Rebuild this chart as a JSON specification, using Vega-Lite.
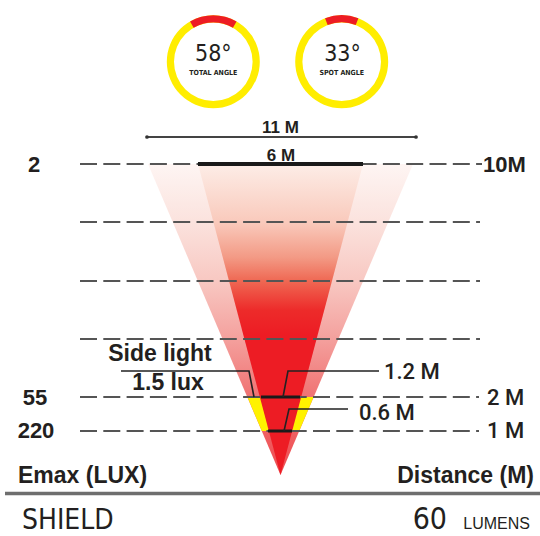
{
  "$schema": "https://vega.github.io/schema/vega-lite/v6.json",
  "width": 540,
  "height": 536,
  "padding": 0,
  "autosize": {"type": "none"},
  "background": "white",
  "config": {"view": {"stroke": null}},
  "datasets": {
    "outer": [{"y": 164, "x": 148, "x2": 413}, {"y": 475, "x": 280.5, "x2": 280.5}],
    "inner": [{"y": 164, "x": 198, "x2": 363}, {"y": 475, "x": 280.5, "x2": 280.5}],
    "band": [{"y": 397, "x": 247.4, "x2": 313.6}, {"y": 431, "x": 261.8, "x2": 299.2}],
    "grid": [
      {"y": 164, "x": 80, "x2": 482},
      {"y": 222, "x": 80, "x2": 480},
      {"y": 281, "x": 80, "x2": 480},
      {"y": 339, "x": 80, "x2": 480},
      {"y": 397, "x": 80, "x2": 479},
      {"y": 431, "x": 80, "x2": 479}
    ],
    "spans": [
      {"span": "6 M", "y": 164, "x": 198, "x2": 363},
      {"span": "1.2 M", "y": 397, "x": 261, "x2": 300},
      {"span": "0.6 M", "y": 431, "x": 268, "x2": 292}
    ],
    "dim": [{"span": "11 M", "y": 137, "x": 147, "x2": 416}],
    "dimEnds": [{"x": 147, "y": 137}, {"x": 416, "y": 137}],
    "leaders": [
      {"id": "side", "k": 0, "x": 121, "y": 371},
      {"id": "side", "k": 1, "x": 249, "y": 371},
      {"id": "side", "k": 2, "x": 254, "y": 397},
      {"id": "spot2", "k": 0, "x": 379, "y": 371},
      {"id": "spot2", "k": 1, "x": 288, "y": 371},
      {"id": "spot2", "k": 2, "x": 283, "y": 397},
      {"id": "spot1", "k": 0, "x": 348, "y": 409},
      {"id": "spot1", "k": 1, "x": 289, "y": 409},
      {"id": "spot1", "k": 2, "x": 284, "y": 431}
    ],
    "base": [{"x": 5, "x2": 540, "y": 493.5}],
    "rings": [
      {"ring": "total", "x": 213.3, "y": 61.7, "a0": -180, "a1": 180},
      {"ring": "spot", "x": 341.7, "y": 61.7, "a0": -180, "a1": 180}
    ],
    "ringArcs": [
      {"ring": "total", "x": 213.3, "y": 61.7, "a0": -30, "a1": 30},
      {"ring": "spot", "x": 341.7, "y": 61.7, "a0": -21, "a1": 21}
    ],
    "ringBig": [
      {"t": "58°", "x": 213.3, "y": 60.5},
      {"t": "33°", "x": 342.5, "y": 60.5}
    ],
    "ringSmall": [
      {"t": "TOTAL ANGLE", "x": 213.3, "y": 74.5},
      {"t": "SPOT ANGLE", "x": 341.7, "y": 74.5}
    ],
    "boldCenter": [
      {"t": "Side light", "x": 160, "y": 361},
      {"t": "1.5 lux", "x": 168, "y": 390}
    ],
    "lux": [
      {"t": "2", "x": 34, "y": 172},
      {"t": "55", "x": 35, "y": 405},
      {"t": "220", "x": 36, "y": 438}
    ],
    "distTop": [{"t": "10M", "x": 483, "y": 172}],
    "dist": [
      {"t": "2 M", "x": 487, "y": 405},
      {"t": "1 M", "x": 487, "y": 438}
    ],
    "spotLabels": [
      {"t": "1.2 M", "x": 384, "y": 379},
      {"t": "0.6 M", "x": 359, "y": 420}
    ],
    "dimLabels": [
      {"t": "11 M", "x": 280.5, "y": 133},
      {"t": "6 M", "x": 281, "y": 161}
    ],
    "footLeft": [{"t": "Emax (LUX)", "x": 18, "y": 483}],
    "footRight": [{"t": "Distance (M)", "x": 534, "y": 483}],
    "brand": [{"t": "SHIELD", "x": 22, "y": 529}],
    "lumNum": [{"t": "60", "x": 447, "y": 529}],
    "lumWord": [{"t": "LUMENS", "x": 530, "y": 529}]
  },
  "encoding": {
    "x": {"field": "x", "type": "quantitative", "axis": null, "scale": {"domain": [0, 540], "nice": false, "zero": false}},
    "y": {"field": "y", "type": "quantitative", "axis": null, "scale": {"domain": [0, 536], "nice": false, "zero": false, "reverse": true}}
  },
  "layer": [
    {
      "data": {"name": "outer"},
      "mark": {"type": "area", "orient": "horizontal", "color": {"gradient": "linear", "x1": 0, "y1": 0, "x2": 0, "y2": 1, "stops": [
        {"offset": 0, "color": "#fef5f3"},
        {"offset": 0.19, "color": "#fbe2dd"},
        {"offset": 0.376, "color": "#f8c8c2"},
        {"offset": 0.563, "color": "#f4a09d"},
        {"offset": 0.75, "color": "#f07272"},
        {"offset": 1, "color": "#ef4a4f"}
      ]}},
      "encoding": {"x2": {"field": "x2"}}
    },
    {
      "data": {"name": "band"},
      "mark": {"type": "area", "orient": "horizontal", "color": "#fff200"},
      "encoding": {"x2": {"field": "x2"}}
    },
    {
      "data": {"name": "inner"},
      "mark": {"type": "area", "orient": "horizontal", "color": {"gradient": "linear", "x1": 0, "y1": 0, "x2": 0, "y2": 1, "stops": [
        {"offset": 0, "color": "#fdede7"},
        {"offset": 0.19, "color": "#f9c9bb"},
        {"offset": 0.3, "color": "#f39a85"},
        {"offset": 0.376, "color": "#ef6853"},
        {"offset": 0.47, "color": "#ed2b2a"},
        {"offset": 0.55, "color": "#ed1c24"},
        {"offset": 1, "color": "#ed1c24"}
      ]}},
      "encoding": {"x2": {"field": "x2"}}
    },
    {
      "data": {"name": "grid"},
      "mark": {"type": "rule", "color": "#555555", "strokeWidth": 2, "strokeDash": [17, 6.3]},
      "encoding": {"x2": {"field": "x2"}}
    },
    {
      "data": {"name": "spans"},
      "transform": [{"filter": "datum.y == 164"}],
      "mark": {"type": "rule", "color": "#1a1a1a", "strokeWidth": 4},
      "encoding": {"x2": {"field": "x2"}}
    },
    {
      "data": {"name": "spans"},
      "transform": [{"filter": "datum.y != 164"}],
      "mark": {"type": "rule", "color": "#1a1a1a", "strokeWidth": 3},
      "encoding": {"x2": {"field": "x2"}}
    },
    {
      "data": {"name": "dim"},
      "mark": {"type": "rule", "color": "#444444", "strokeWidth": 2},
      "encoding": {"x2": {"field": "x2"}}
    },
    {
      "data": {"name": "dimEnds"},
      "mark": {"type": "point", "shape": "circle", "filled": true, "color": "#333333", "size": 14, "opacity": 1}
    },
    {
      "data": {"name": "leaders"},
      "mark": {"type": "line", "color": "#222222", "strokeWidth": 1.6},
      "encoding": {"detail": {"field": "id"}, "order": {"field": "k", "type": "quantitative"}}
    },
    {
      "data": {"name": "base"},
      "mark": {"type": "rule", "color": "#6e6e6e", "strokeWidth": 3.5},
      "encoding": {"x2": {"field": "x2"}}
    },
    {
      "data": {"name": "rings"},
      "mark": {"type": "arc", "radius": 46.5, "radius2": 39.3, "color": "#ffed00"},
      "encoding": {
        "theta": {"field": "a0", "type": "quantitative", "stack": null, "scale": {"domain": [-180, 180], "range": [-3.14159265, 3.14159265]}},
        "theta2": {"field": "a1"}
      }
    },
    {
      "data": {"name": "ringArcs"},
      "mark": {"type": "arc", "radius": 46.5, "radius2": 39.3, "color": "#ed1c24"},
      "encoding": {
        "theta": {"field": "a0", "type": "quantitative", "stack": null, "scale": {"domain": [-180, 180], "range": [-3.14159265, 3.14159265]}},
        "theta2": {"field": "a1"}
      }
    },
    {
      "data": {"name": "ringBig"},
      "mark": {"type": "text", "font": "Liberation Sans Narrow, DejaVu Sans Condensed, Roboto", "fontSize": 23, "color": "#231f20", "align": "center", "baseline": "alphabetic"},
      "encoding": {"text": {"field": "t"}}
    },
    {
      "data": {"name": "ringSmall"},
      "mark": {"type": "text", "font": "Liberation Sans Narrow, DejaVu Sans Condensed, Roboto", "fontSize": 7, "fontWeight": "bold", "color": "#231f20", "align": "center", "baseline": "alphabetic"},
      "encoding": {"text": {"field": "t"}}
    },
    {
      "data": {"name": "boldCenter"},
      "mark": {"type": "text", "font": "Liberation Sans", "fontSize": 23, "fontWeight": "bold", "color": "#231f20", "align": "center", "baseline": "alphabetic"},
      "encoding": {"text": {"field": "t"}}
    },
    {
      "data": {"name": "lux"},
      "mark": {"type": "text", "font": "Liberation Sans", "fontSize": 22, "fontWeight": "bold", "color": "#231f20", "align": "center", "baseline": "alphabetic"},
      "encoding": {"text": {"field": "t"}}
    },
    {
      "data": {"name": "distTop"},
      "mark": {"type": "text", "font": "Liberation Sans", "fontSize": 22, "fontWeight": "bold", "color": "#231f20", "align": "left", "baseline": "alphabetic"},
      "encoding": {"text": {"field": "t"}}
    },
    {
      "data": {"name": "dist"},
      "mark": {"type": "text", "font": "Roboto", "fontSize": 22, "fontWeight": 500, "color": "#231f20", "align": "left", "baseline": "alphabetic"},
      "encoding": {"text": {"field": "t"}}
    },
    {
      "data": {"name": "spotLabels"},
      "mark": {"type": "text", "font": "Roboto", "fontSize": 22, "fontWeight": 500, "color": "#231f20", "align": "left", "baseline": "alphabetic"},
      "encoding": {"text": {"field": "t"}}
    },
    {
      "data": {"name": "dimLabels"},
      "mark": {"type": "text", "font": "Liberation Sans", "fontSize": 17, "fontWeight": "bold", "color": "#231f20", "align": "center", "baseline": "alphabetic"},
      "encoding": {"text": {"field": "t"}}
    },
    {
      "data": {"name": "footLeft"},
      "mark": {"type": "text", "font": "Liberation Sans", "fontSize": 23, "fontWeight": "bold", "color": "#231f20", "align": "left", "baseline": "alphabetic"},
      "encoding": {"text": {"field": "t"}}
    },
    {
      "data": {"name": "footRight"},
      "mark": {"type": "text", "font": "Liberation Sans", "fontSize": 23, "fontWeight": "bold", "color": "#231f20", "align": "right", "baseline": "alphabetic"},
      "encoding": {"text": {"field": "t"}}
    },
    {
      "data": {"name": "brand"},
      "mark": {"type": "text", "font": "Liberation Sans Narrow, DejaVu Sans Condensed, Roboto", "fontSize": 28, "color": "#231f20", "align": "left", "baseline": "alphabetic"},
      "encoding": {"text": {"field": "t"}}
    },
    {
      "data": {"name": "lumNum"},
      "mark": {"type": "text", "font": "Liberation Sans Narrow, DejaVu Sans Condensed, Roboto", "fontSize": 30, "color": "#231f20", "align": "right", "baseline": "alphabetic"},
      "encoding": {"text": {"field": "t"}}
    },
    {
      "data": {"name": "lumWord"},
      "mark": {"type": "text", "font": "Liberation Sans", "fontSize": 16, "color": "#231f20", "align": "right", "baseline": "alphabetic"},
      "encoding": {"text": {"field": "t"}}
    }
  ]
}
